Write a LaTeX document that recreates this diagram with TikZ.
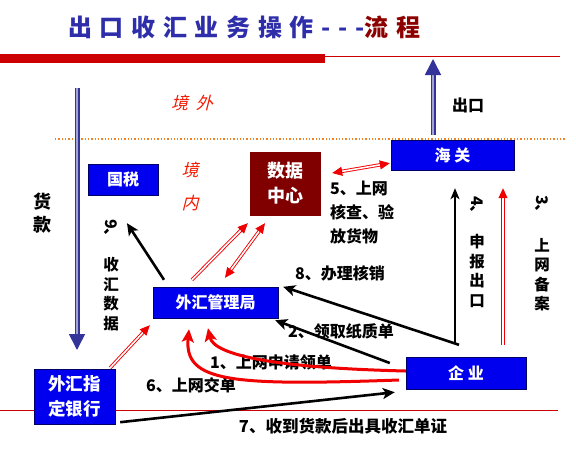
\documentclass[tikz,border=0pt]{standalone}
\usepackage{fontspec}
\setmainfont{Noto Sans CJK SC}
\newfontfamily\slantcjk[FakeSlant=0.25]{Noto Sans CJK SC}
\newfontfamily\titlecjk[LetterSpace=32]{Noto Sans CJK SC}
\usetikzlibrary{arrows.meta}
\definecolor{boxblue}{RGB}{0,0,238}
\definecolor{boxred}{RGB}{128,0,0}
\definecolor{titleblue}{RGB}{46,46,170}
\definecolor{titlered}{RGB}{140,0,0}
\definecolor{arrowblue}{RGB}{51,51,153}
\definecolor{lineorange}{RGB}{240,130,40}
\definecolor{linered}{RGB}{204,0,0}
\definecolor{arrowred}{RGB}{240,0,0}

\begin{document}
\begin{tikzpicture}[x=1pt, y=-1pt,
    blue box/.style={draw=blue!40!black, fill=boxblue, text=white, inner sep=0pt,
        font=\bfseries\fontsize{16}{19}\selectfont},
    red box/.style={blue box, fill=boxred, draw=boxred},
    label text/.style={inner sep=0pt, font=\bfseries\fontsize{16}{18}\selectfont},
    vert text/.style={inner sep=0pt, align=center, font=\bfseries\fontsize{15.5}{19.5}\selectfont},
    black arrow/.style={line width=2.6pt, -{Stealth[length=12pt,width=11pt,inset=3pt]}},
    thin arrow/.style={line width=1.8pt, -{Stealth[length=11pt,width=9pt,inset=3pt]}},
    red arrow/.style={draw=arrowred, line width=3pt, -{Stealth[length=13pt,width=12pt,inset=3pt]}},
    double arrow/.style={draw=arrowred, line width=0.9pt, double=white, double distance=1.6pt,
        -{Triangle[length=10pt,width=9pt]}},
    big arrow/.style={draw=arrowblue, line width=1.6pt, double=arrowblue!45!white, double distance=1.8pt,
        -{Triangle[length=16pt,width=16pt]}},
    ]
    \useasboundingbox (0,0) rectangle (576,448);

    \node[anchor=west, inner sep=0pt, font=\titlecjk\bfseries\fontsize{24}{27}\selectfont] (title) at (68,27)
        {\textcolor{titleblue}{出口收汇业务操作---}\textcolor{titlered}{流程}};
    \fill[linered] (0,54) rectangle (325,63);
    \draw[linered, line width=0.8pt] (325,56) -- (560,56);
    \draw[lineorange, line width=1.3pt, dotted] (55,139) -- (565,139);
    \draw[linered, line width=0.8pt] (0,410) -- (558,410);

    \node[inner sep=0pt, text=arrowred!80!orange, font=\slantcjk\fontsize{17}{19}\selectfont] (jw) at (192,103) {境\ \ 外};
    \node[inner sep=0pt, align=center, text=arrowred!80!orange, font=\slantcjk\fontsize{17}{33}\selectfont] (jn) at (190,186.5) {境\\内};

    \node[blue box, minimum width=70pt, minimum height=31pt] (gs) at (123,179.5) {国税};
    \node[red box, minimum width=70pt, minimum height=63pt, align=center,
        font=\bfseries\fontsize{18}{25}\selectfont] (sjzx) at (285,183.5) {数据\\中心};
    \node[blue box, minimum width=123pt, minimum height=30pt] (hg) at (452.5,155) {海\ 关};
    \node[blue box, minimum width=125pt, minimum height=31pt] (wgj) at (215.5,302.5) {外汇管理局};
    \node[blue box, minimum width=120pt, minimum height=32pt] (qy) at (466,373) {企\ 业};
    \node[blue box, minimum width=81pt, minimum height=55pt, align=left,
        font=\bfseries\fontsize{17.5}{25}\selectfont] (yh) at (74.5,396.5) {外汇指\\定银行};

    \node[label text] (ck) at (468,105) {出口};
    \node[vert text, font=\bfseries\fontsize{18}{23}\selectfont] (hk) at (43,213.5) {货\\款};
    \node[label text, rotate=-90] (l9a) at (111,232) {9、};
    \node[vert text] (l9) at (111,294) {收\\汇\\数\\据};
    \node[label text, rotate=-90] (l4a) at (477,209) {4、};
    \node[vert text] (l4) at (477,271) {申\\报\\出\\口};
    \node[label text, rotate=-90] (l3a) at (542,208) {3、};
    \node[vert text] (l3) at (542,274.5) {上\\网\\备\\案};
    \node[label text, align=left, anchor=west, font=\bfseries\fontsize{16}{24}\selectfont] (l5) at (330,213)
        {5、上网\\核查、验\\放货物};
    \node[label text] (l8) at (340,273) {8、办理核销};
    \node[label text] (l2) at (341,331) {2、领取纸质单};
    \node[label text] (l1) at (271,362) {1、上网申请领单};
    \node[label text] (l6) at (191,385) {6、上网交单};
    \node[label text, font=\bfseries\fontsize{16.5}{19}\selectfont] (l7) at (343,426) {7、收到货款后出具收汇单证};

    \coordinate (hk top) at (77,88);
    \coordinate (hk end) at (77,350);
    \coordinate (ck start) at (433,135);
    \coordinate (ck end) at (433,59);
    \draw[big arrow] (hk top) -- (hk end);
    \draw[big arrow] (ck start) -- (ck end);

    \draw[black arrow] ([xshift=-51.5pt,yshift=7pt]wgj.north) -- ([xshift=4pt,yshift=-28pt]gs.south);
    \draw[double arrow] ([xshift=-23.5pt,yshift=7pt]wgj.north) -- ([xshift=-2pt,yshift=-8pt]sjzx.south west);
    \draw[double arrow, {Triangle[length=10pt,width=9pt]}-{Triangle[length=10pt,width=9pt]}]
        ([xshift=9.5pt,yshift=9pt]wgj.north) -- ([xshift=-20pt,yshift=-8pt]sjzx.south);
    \draw[double arrow, {Triangle[length=10pt,width=9pt]}-{Triangle[length=10pt,width=9pt]}]
        ([xshift=12pt,yshift=10.5pt]sjzx.east) -- ([xshift=-1pt,yshift=7pt]hg.south west);
    \draw[thin arrow] ([xshift=-11pt,yshift=14pt]qy.north) -- ([xshift=2.5pt,yshift=-18pt]hg.south);
    \draw[double arrow] ([xshift=37pt,yshift=12pt]qy.north) -- ([xshift=50.5pt,yshift=-18pt]hg.south);
    \draw[black arrow] ([xshift=-7pt,yshift=12pt]qy.north) -- ([xshift=5pt]wgj.north east);
    \draw[black arrow] ([xshift=-16pt,yshift=10pt]qy.west) -- ([xshift=-3pt,yshift=-2pt]wgj.south east);
    \draw[red arrow] ([yshift=2pt]qy.west) .. controls (280,368) and (214,356) .. ([xshift=-7.5pt,yshift=-10pt]wgj.south);
    \draw[red arrow] ([xshift=-7pt,yshift=-7pt]qy.west) .. controls (230,386) and (184,382) .. ([xshift=-26.5pt,yshift=-11pt]wgj.south);
    \draw[black arrow] ([xshift=5pt,yshift=2pt]yh.south east) -- ([xshift=-11pt,yshift=-3pt]qy.south west);
    \draw[double arrow] ([xshift=-5pt,yshift=1pt]yh.north east) -- ([xshift=-3pt,yshift=-7pt]wgj.south west);
\end{tikzpicture}
\end{document}
